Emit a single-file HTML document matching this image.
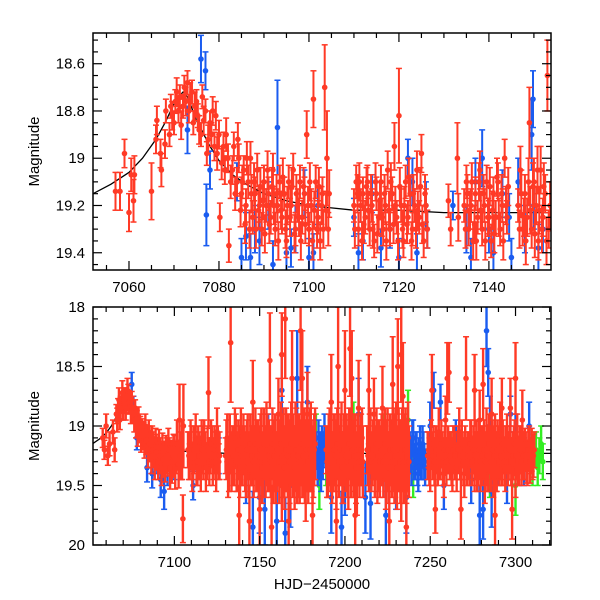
<!DOCTYPE html>
<html><head><meta charset="utf-8"><style>
html,body{margin:0;padding:0;background:#fff}
svg{display:block}
text{font-family:"Liberation Sans",sans-serif;fill:#000}
</style></head><body>
<svg id="chart" width="600" height="600" viewBox="0 0 600 600" xmlns="http://www.w3.org/2000/svg">
<g id="top"></g>
<g id="bot"></g>
</svg>
<script>
// ---- data: [HJD-2450000, magnitude, error] ----
const topRed = [
[7057,19.14,.08],[7058,19.14,.08],[7059,18.98,.06],[7060,19.23,.08],[7060.5,19.07,.07],[7061,19.18,.09],[7061.2,19.07,.08],
[7065,19.14,.12],[7066,18.92,.06],[7066.2,18.84,.06],[7067,18.98,.06],[7067.2,19.05,.07],[7068,18.94,.06],[7068.2,18.8,.05],
[7069,18.9,.05],[7069.3,18.78,.05],[7070,18.85,.05],[7070.3,18.76,.05],[7071,18.8,.05],[7071.3,18.74,.05],[7072,18.78,.05],
[7072.3,18.7,.05],[7073,18.68,.05],[7073.3,18.8,.05],[7074,18.72,.05],[7074.3,18.85,.05],[7075,18.76,.05],[7075.3,18.82,.05],
[7076,18.9,.05],[7076.3,18.74,.05],[7077,18.8,.05],[7077.3,18.98,.05],[7078,18.85,.05],[7078.3,18.9,.05],[7079,18.95,.06],
[7079.3,18.82,.06],[7080,18.9,.06],[7080.2,19.25,.06],[7081,18.95,.06],[7081.3,19.05,.06],[7082,19.0,.06],[7082.2,19.37,.07],
[7083,19.05,.06],[7083.3,18.95,.06],[7084,19.1,.06],[7084.4,19.0,.06],[7085,19.15,.07],[7085.5,19.05,.06],[7086,19.2,.07],
[7086.5,19.1,.07],[7087,19.0,.07],[7087.5,19.25,.07],[7088,19.15,.07],[7088.5,19.05,.07],[7089,19.2,.07],[7089.5,19.3,.07],
[7090,19.1,.07],[7090.5,19.2,.07],[7091,19.15,.07],[7091.5,19.25,.07],[7092,19.05,.07],[7092.5,19.3,.07],[7093,19.2,.07],
[7093.5,19.1,.07],[7094,19.25,.07],[7094.5,19.15,.07],[7095,19.35,.07],[7095.5,19.1,.07],[7096,19.2,.07],[7096.5,19.05,.07],
[7097,19.3,.07],[7097.5,19.2,.07],[7098,19.1,.07],[7098.5,19.25,.07],[7099,19.15,.07],[7099.5,18.9,.1],[7100,19.3,.07],
[7100.5,19.2,.07],[7101,18.75,.12],[7101.5,19.1,.07],[7102,19.25,.07],[7102.5,19.35,.08],[7103,19.15,.07],[7103.5,18.7,.18],
[7104,19.0,.2],[7104.3,19.3,.07],
[7110,19.2,.07],[7110.5,19.1,.07],[7111,19.3,.07],[7111.5,19.2,.07],[7112,19.15,.07],[7112.5,19.25,.07],[7113,19.1,.07],
[7113.5,19.3,.07],[7114,19.2,.07],[7114.5,19.35,.07],[7115,19.15,.07],[7115.5,19.25,.07],[7116,19.1,.07],[7116.5,19.3,.07],
[7117,19.2,.08],[7117.5,19.05,.08],[7118,19.3,.07],[7118.5,19.15,.07],[7119,18.95,.1],[7119.5,19.25,.07],[7120,18.82,.2],
[7120.5,19.2,.07],[7121,19.35,.07],[7121.5,19.1,.07],[7122,19.25,.07],[7122.5,19.15,.07],[7123,19.3,.07],[7123.5,19.2,.07],
[7124,19.05,.08],[7124.5,19.25,.07],[7125,18.98,.08],[7125.5,19.35,.07],[7126,19.2,.07],
[7131,19.18,.07],[7131.5,19.3,.07],[7133,19.0,.15],[7133.2,19.25,.1],
[7134.5,19.2,.07],[7135,19.1,.07],[7135.5,19.3,.07],[7136,19.2,.07],[7136.5,19.35,.08],[7137,19.15,.07],[7137.5,19.25,.07],
[7138,19.05,.08],[7138.5,19.3,.07],[7139,19.2,.07],[7139.5,19.1,.07],[7140,19.25,.07],[7140.5,19.35,.07],[7141,19.15,.07],
[7141.5,19.25,.07],[7142,19.1,.08],[7142.5,19.3,.07],[7143,19.2,.07],[7143.5,19.0,.08],[7144,19.25,.07],
[7146.5,19.2,.07],[7147,19.05,.1],[7147.5,19.3,.07],[7148,19.15,.08],[7148.5,19.25,.08],[7149,18.85,.15],[7149.5,19.3,.08],
[7150,19.1,.1],[7150.5,19.2,.08],[7151,19.35,.08],[7151.5,19.05,.1],[7152,19.25,.08],[7152.5,19.15,.08],[7153,18.65,.15],
[7153.3,19.3,.08]
];
const topRed2 = [
[7069.6,18.82,.06],[7070.6,18.72,.06],[7071.6,18.86,.06],[7072.6,18.76,.06],[7073.6,18.74,.06],[7074.6,18.78,.06],
[7075.6,18.88,.06],[7076.6,18.84,.06],[7077.6,18.92,.06],[7078.6,18.8,.06],[7079.6,18.98,.07],[7080.6,19.02,.07],
[7081.6,18.9,.07],[7082.6,19.1,.07],[7083.6,19.15,.07],[7084.2,18.92,.07],[7084.8,19.22,.07],[7085.2,19.1,.07],[7085.8,19.28,.08],
[7086.2,19.0,.07],[7086.8,19.3,.08],[7087.2,19.15,.08],[7087.8,19.1,.08],[7088.2,19.3,.08],[7088.8,19.22,.08],[7089.2,19.12,.08],
[7089.8,19.18,.08],[7090.2,19.32,.08],[7090.8,19.05,.08],[7091.2,19.28,.08],[7091.8,19.12,.08],[7092.2,19.2,.08],[7092.8,19.15,.08],
[7093.2,19.35,.08],[7093.8,19.22,.08],[7094.2,19.08,.08],[7094.8,19.3,.08],[7095.2,19.2,.08],[7095.8,19.25,.08],[7096.2,19.12,.08],
[7096.8,19.32,.08],[7097.2,19.15,.08],[7097.8,19.25,.08],[7098.2,19.35,.08],[7098.8,19.12,.08],[7099.2,19.28,.08],[7099.8,19.2,.08],
[7100.2,19.1,.08],[7100.8,19.35,.08],[7101.2,19.22,.08],[7101.8,19.3,.08],[7102.2,19.12,.08],[7102.8,19.2,.08],[7103.2,19.3,.08],
[7103.8,19.22,.08],[7104.5,19.15,.1],
[7110.2,19.3,.08],[7110.8,19.15,.08],[7111.2,19.1,.08],[7111.8,19.35,.08],[7112.2,19.28,.08],[7112.8,19.12,.08],[7113.2,19.22,.08],
[7113.8,19.15,.08],[7114.2,19.3,.08],[7114.8,19.1,.08],[7115.2,19.32,.08],[7115.8,19.18,.08],[7116.2,19.25,.08],[7116.8,19.15,.08],
[7117.2,19.35,.08],[7117.8,19.22,.08],[7118.2,19.1,.08],[7118.8,19.28,.08],[7119.2,19.2,.08],[7119.8,19.35,.08],[7120.2,19.12,.08],
[7120.8,19.3,.08],[7121.2,19.2,.08],[7121.8,19.28,.08],[7122.2,19.08,.08],[7122.8,19.35,.08],[7123.2,19.15,.08],[7123.8,19.3,.08],
[7124.2,19.22,.08],[7124.8,19.12,.08],[7125.2,19.28,.08],[7125.8,19.15,.08],[7126.3,19.3,.08],
[7134.8,19.3,.08],[7135.2,19.15,.08],[7135.8,19.22,.08],[7136.2,19.1,.08],[7136.8,19.28,.08],[7137.2,19.35,.08],[7137.8,19.1,.08],
[7138.2,19.22,.08],[7138.8,19.15,.08],[7139.2,19.35,.08],[7139.8,19.25,.08],[7140.2,19.12,.08],[7140.8,19.22,.08],[7141.2,19.32,.08],
[7141.8,19.08,.08],[7142.2,19.25,.08],[7142.8,19.15,.08],[7143.2,19.35,.08],[7143.8,19.2,.08],[7144.3,19.12,.08],
[7146.8,19.3,.08],[7147.2,19.15,.1],[7147.8,19.25,.08],[7148.2,19.35,.1],[7148.8,19.1,.1],[7149.2,19.22,.1],[7149.8,19.12,.1],
[7150.2,19.32,.1],[7150.8,19.05,.1],[7151.2,19.22,.1],[7151.8,19.3,.1],[7152.2,19.12,.1],[7152.8,19.35,.1],[7153.6,19.2,.1]
];
const topBlue = [
[7073,18.88,.1],[7076,18.58,.1],[7077,18.63,.08],[7077.2,19.24,.13],[7078,19.05,.08],[7084,19.1,.08],[7086,19.33,.1],
[7087,19.42,.1],[7089,19.35,.1],[7091,19.2,.1],[7093,18.87,.2],[7095,19.4,.1],[7097,19.3,.1],[7099,19.15,.1],[7101,19.4,.08],
[7102,19.2,.08],[7110,19.25,.08],[7112,19.35,.08],[7114,19.15,.08],[7118,19.3,.08],[7122,19.0,.08],[7123,19.1,.1],
[7126,19.2,.1],[7126.3,19.3,.08],[7132,19.2,.06],[7135,19.3,.1],[7137,19.1,.1],[7138.5,19.0,.12],[7140,19.3,.1],
[7143,19.15,.1],[7144.5,19.25,.1],[7146.5,19.1,.1],[7148,19.3,.1],[7149.5,18.9,.15],[7150,19.2,.1],[7152,19.3,.1],[7154,19.2,.1],
[7085,19.42,.08],[7088,19.3,.1],[7092,19.45,.1],[7096,19.38,.08],[7100,19.42,.08],[7111,19.4,.08],[7116,19.38,.08],
[7120,19.42,.08],[7124,19.4,.08],[7136,19.42,.08],[7141,19.4,.1],[7145,19.42,.08],[7151,19.38,.1],[7149.8,18.75,.12]
];
const botRed = [
[7058,19.1,.08],[7059,19.2,.08],[7060,19.0,.1],[7061,19.25,.08],[7062,19.15,.1],[7064,19.05,.1],[7065,19.2,.1],
[7066,18.9,.08],[7067,18.85,.08],[7068,18.95,.08],[7069,18.8,.07],[7070,18.88,.07],[7071,18.75,.07],[7072,18.82,.07],
[7073,18.72,.07],[7074,18.8,.07],[7075,18.78,.07],[7076,18.9,.07],[7077,18.85,.07],[7078,18.95,.08],[7079,18.92,.08],
[7080,19.0,.08],[7081,19.02,.08],[7082,19.05,.08],[7083,19.0,.1],[7084,19.1,.1],[7085,19.05,.1],[7086,19.15,.1],
[7087,19.1,.1],[7088,19.2,.1],[7089,19.12,.1],[7090,19.2,.1],[7091,19.15,.12],[7092,19.25,.1],[7093,19.18,.12],
[7094,19.25,.12],[7095,19.2,.12],[7096,19.3,.12],[7097,19.22,.12],[7098,19.25,.12],[7099,19.3,.12],[7100,19.2,.12],
[7101,19.28,.12],[7102,19.25,.12],[7103,18.95,.3],[7104,19.3,.15],[7105,19.78,.2],[7105.3,19.0,.35],
[7108,19.2,.15],[7109,19.3,.15],[7110,19.15,.15],[7111,19.3,.15],[7112,19.2,.15],[7113,19.35,.15],[7114,19.15,.15],
[7115,19.25,.15],[7116,19.1,.15],[7117,19.3,.15],[7118,19.2,.15],[7119,19.3,.15],[7120,18.72,.3],[7121,19.25,.15],
[7122,19.15,.15],[7123,19.3,.15],[7124,19.2,.15],[7125,19.05,.2],[7126,19.3,.15],
[7130,19.25,.15],[7131,19.1,.2],[7132,19.35,.2],[7133,18.3,.5],[7134,19.2,.2],[7135,19.3,.2],[7136,19.1,.2],[7137,19.35,.2],
[7138,19.2,.2],[7139,19.05,.2],[7140,19.3,.2],[7141,19.2,.2],[7142,19.4,.2],[7143,19.1,.2],[7144,19.25,.2],[7145,19.3,.2],
[7146,18.8,.35],[7147,19.2,.2],[7148,19.35,.2],[7149,19.15,.2],[7150,19.3,.2],[7151,19.1,.25],[7152,19.4,.2],[7153,19.2,.2],
[7154,19.05,.25],[7155,19.35,.2],[7156,18.45,.4],[7157,19.2,.2],[7158,19.4,.25],[7159,19.15,.25],[7160,19.3,.25],
[7161,18.9,.3],[7162,19.25,.25],[7163,19.5,.3],[7164,19.1,.25],[7165,18.1,.5],[7166,19.3,.25],[7167,19.2,.3],[7168,19.4,.3],
[7169,18.6,.4],[7170,19.25,.25],[7171,19.1,.3],[7172,19.35,.3],[7173,19.2,.3],[7174,18.2,.5],[7175,19.3,.3],[7176,19.15,.3],
[7177,19.45,.35],[7178,18.9,.35],[7179,19.25,.3],[7180,19.1,.3],[7181,19.35,.3],[7182,19.2,.3],
[7189,19.2,.2],[7190,19.35,.25],[7191,19.1,.25],[7192,18.8,.4],[7193,19.3,.25],[7194,19.15,.25],[7195,19.4,.3],[7196,18.5,.5],
[7197,19.25,.25],[7198,19.1,.3],[7199,19.35,.3],[7200,18.7,.5],[7201,19.2,.3],[7202,19.4,.3],[7203,19.15,.3],[7204,18.6,.4],
[7205,19.3,.3],[7206,19.2,.3],[7207,19.45,.3],[7208,18.85,.4],[7209,19.25,.25],[7210,19.1,.25],
[7213,19.2,.2],[7214,19.35,.2],[7215,19.1,.25],[7216,19.3,.2],[7217,18.9,.3],[7218,19.25,.2],[7219,19.4,.25],[7220,19.15,.2],
[7221,19.3,.2],[7222,18.85,.35],[7223,19.2,.25],[7224,19.45,.25],[7225,19.1,.25],[7226,19.3,.25],[7227,19.2,.25],
[7228,18.65,.4],[7229,19.35,.3],[7230,19.1,.3],[7231,18.5,.4],[7232,19.25,.3],[7233,19.45,.35],[7234,18.75,.45],
[7235,19.2,.3],[7236,19.35,.3],[7237,19.1,.3],
[7249,19.2,.15],[7250,19.35,.2],[7251,18.7,.3],[7252,19.15,.15],[7253,19.3,.2],[7254,19.2,.15],[7255,19.05,.2],[7256,19.3,.15],
[7257,19.2,.15],[7258,19.4,.2],[7259,18.95,.2],[7260,19.25,.15],[7261,18.55,.25],[7262,19.2,.15],[7263,19.35,.2],
[7264,19.15,.15],[7265,19.3,.15],[7266,19.2,.15],[7267,19.05,.2],[7268,19.3,.15],[7269,19.2,.15],[7270,19.4,.2],
[7271,18.6,.35],[7272,19.2,.15],[7273,19.3,.2],[7274,19.1,.15],[7275,19.25,.15],[7276,19.35,.2],[7277,19.15,.2],
[7278,19.3,.2],[7279,18.95,.25],[7280,19.2,.2],[7281,18.65,.3],[7282,19.4,.25],[7283,19.1,.25],[7284,19.3,.25],
[7285,19.2,.2],[7286,18.9,.3],[7287,19.35,.25],[7288,19.15,.25],[7289,19.3,.25],[7290,19.2,.2],[7291,19.05,.25],
[7292,19.3,.2],[7293,19.2,.2],[7294,19.35,.2],[7295,19.1,.2],[7296,19.25,.2],[7297,18.85,.25],[7298,19.3,.2],
[7299,19.2,.2],[7300,19.4,.2],[7301,19.1,.2],[7302,19.3,.2],[7303,19.2,.2],[7304,18.95,.25],[7305,19.3,.15],
[7306,19.2,.15],[7307,19.35,.15],[7308,19.15,.15],[7309,19.25,.15],[7310,19.3,.15],[7311,19.2,.15]
];
const botRed2 = [
[7066.5,18.95,.1],[7067.5,18.78,.1],[7068.5,18.85,.1],[7069.5,18.72,.1],[7070.5,18.78,.1],[7071.5,18.85,.1],[7072.5,18.7,.1],
[7073.5,18.8,.1],[7074.5,18.88,.1],[7075.5,18.85,.1],[7076.5,18.95,.1],[7077.5,18.98,.12],[7078.5,19.05,.12],
[7079.5,19.02,.12],[7080.5,19.1,.12],[7081.5,19.08,.12],[7082.5,19.15,.12],[7083.5,19.12,.12],[7084.5,19.2,.15],
[7085.5,19.15,.15],[7086.5,19.25,.15],[7087.5,19.2,.15],[7088.5,19.3,.15],[7089.5,19.22,.15],[7090.5,19.3,.15],
[7091.5,19.25,.15],[7092.5,19.35,.15],[7093.5,19.28,.15],[7094.5,19.32,.15],[7095.5,19.25,.15],[7096.5,19.2,.18],
[7097.5,19.35,.18],[7098.5,19.3,.18],[7099.5,19.25,.18],[7100.5,19.35,.18],[7101.5,19.15,.2],[7102.5,19.32,.2],[7103.5,19.25,.2],[7104.5,19.2,.25],
[7108.5,19.25,.2],[7109.5,19.15,.2],[7110.5,19.35,.2],[7111.5,19.2,.2],[7112.5,19.1,.2],[7113.5,19.3,.2],[7114.5,19.25,.2],
[7115.5,19.35,.2],[7116.5,19.2,.2],[7117.5,19.15,.2],[7118.5,19.35,.2],[7119.5,19.2,.2],[7120.5,19.3,.2],[7121.5,19.15,.2],
[7122.5,19.3,.2],[7123.5,19.2,.2],[7124.5,19.35,.2],[7125.5,19.2,.2],[7126.5,19.25,.2],
[7130.5,19.2,.25],[7131.5,19.35,.25],[7132.5,19.15,.25],[7133.5,19.3,.25],[7134.5,19.25,.25],[7135.5,19.1,.25],[7136.5,19.3,.25],
[7137.5,19.2,.25],[7138.5,19.35,.25],[7139.5,19.25,.25],[7140.5,19.15,.25],[7141.5,19.3,.25],[7142.5,19.2,.25],[7143.5,19.35,.25],
[7144.5,19.15,.25],[7145.5,19.25,.25],[7146.5,19.3,.3],[7147.5,19.15,.3],[7148.5,19.25,.3],[7149.5,19.3,.3],[7150.5,19.2,.3],
[7151.5,19.35,.3],[7152.5,19.15,.3],[7153.5,19.3,.3],[7154.5,19.2,.3],[7155.5,19.25,.3],[7156.5,19.3,.3],[7157.5,19.15,.3],
[7158.5,19.25,.3],[7159.5,19.35,.3],[7160.5,19.2,.3],[7161.5,19.3,.35],[7162.5,19.15,.35],[7163.5,19.25,.35],[7164.5,19.35,.35],
[7165.5,19.2,.35],[7166.5,19.25,.35],[7167.5,19.3,.35],[7168.5,19.15,.35],[7169.5,19.25,.35],[7170.5,19.35,.35],[7171.5,19.2,.35],
[7172.5,19.25,.35],[7173.5,19.3,.35],[7174.5,19.15,.35],[7175.5,19.25,.35],[7176.5,19.3,.35],[7177.5,19.2,.35],[7178.5,19.3,.35],
[7179.5,19.2,.35],[7180.5,19.25,.3],[7181.5,19.3,.3],[7182.5,19.15,.3],
[7189.5,19.3,.3],[7190.5,19.2,.3],[7191.5,19.25,.3],[7192.5,19.35,.3],[7193.5,19.2,.3],[7194.5,19.25,.3],[7195.5,19.15,.3],
[7196.5,19.3,.3],[7197.5,19.2,.3],[7198.5,19.35,.3],[7199.5,19.2,.3],[7200.5,19.25,.3],[7201.5,19.3,.3],[7202.5,19.15,.3],
[7203.5,19.3,.3],[7204.5,19.2,.3],[7205.5,19.25,.3],[7206.5,19.35,.3],[7207.5,19.2,.3],[7208.5,19.3,.3],[7209.5,19.2,.3],[7210.5,19.3,.3],
[7213.5,19.25,.25],[7214.5,19.15,.25],[7215.5,19.3,.25],[7216.5,19.2,.25],[7217.5,19.3,.3],[7218.5,19.15,.3],[7219.5,19.25,.3],
[7220.5,19.3,.3],[7221.5,19.2,.3],[7222.5,19.3,.3],[7223.5,19.15,.3],[7224.5,19.25,.3],[7225.5,19.35,.3],[7226.5,19.2,.3],
[7227.5,19.3,.3],[7228.5,19.2,.35],[7229.5,19.25,.35],[7230.5,19.35,.35],[7231.5,19.2,.35],[7232.5,19.3,.35],[7233.5,19.2,.35],
[7234.5,19.3,.35],[7235.5,19.2,.35],[7236.5,19.25,.3],[7237.5,19.3,.3],
[7248.5,19.25,.2],[7249.5,19.3,.2],[7250.5,19.15,.2],[7251.5,19.25,.2],[7252.5,19.3,.2],[7253.5,19.2,.2],[7254.5,19.3,.2],
[7255.5,19.25,.2],[7256.5,19.15,.2],[7257.5,19.3,.2],[7258.5,19.2,.2],[7259.5,19.3,.2],[7260.5,19.2,.2],[7261.5,19.25,.2],
[7262.5,19.3,.2],[7263.5,19.2,.2],[7264.5,19.25,.2],[7265.5,19.35,.2],[7266.5,19.2,.2],[7267.5,19.25,.2],[7268.5,19.15,.2],
[7269.5,19.3,.2],[7270.5,19.2,.2],[7271.5,19.3,.2],[7272.5,19.25,.2],[7273.5,19.15,.2],[7274.5,19.3,.2],[7275.5,19.2,.2],
[7276.5,19.25,.2],[7277.5,19.3,.25],[7278.5,19.2,.25],[7279.5,19.3,.25],[7280.5,19.25,.25],[7281.5,19.2,.25],[7282.5,19.3,.25],
[7283.5,19.25,.25],[7284.5,19.15,.25],[7285.5,19.3,.25],[7286.5,19.2,.25],[7287.5,19.25,.25],[7288.5,19.3,.25],[7289.5,19.2,.25],
[7290.5,19.3,.2],[7291.5,19.25,.2],[7292.5,19.15,.2],[7293.5,19.3,.2],[7294.5,19.2,.2],[7295.5,19.3,.2],[7296.5,19.2,.2],
[7297.5,19.3,.2],[7298.5,19.25,.2],[7299.5,19.15,.2],[7300.5,19.25,.2],[7301.5,19.3,.2],[7302.5,19.2,.2],[7303.5,19.3,.2],
[7304.5,19.25,.2],[7305.5,19.2,.18],[7306.5,19.3,.18],[7307.5,19.2,.18],[7308.5,19.3,.18],[7309.5,19.2,.18],[7310.5,19.25,.18]
];
const botOutRed = [
[7138,19.75,.25],[7144,19.8,.3],[7150,19.7,.3],[7157,19.85,.35],[7163,18.4,.35],[7167,19.8,.3],[7175,18.6,.4],[7181,19.75,.3],
[7195,19.8,.3],[7203,18.35,.4],[7206,19.75,.3],[7214,18.7,.3],[7226,19.8,.3],[7233,18.4,.4],[7236,19.85,.3],[7253,19.7,.2],
[7260,18.6,.3],[7268,19.7,.25],[7276,18.7,.3],[7288,19.75,.25],[7292,18.85,.25],[7298,19.7,.25],[7300,18.6,.3]
];
const botBlue = [
[7075,18.65,.1],[7076,18.85,.1],[7078,19.1,.1],[7084,19.35,.12],[7087,19.4,.12],[7090,19.25,.15],[7092,19.45,.15],
[7094,19.55,.15],[7096,19.35,.15],[7100,19.3,.15],[7111,19.5,.12],[7114,19.3,.15],[7126,19.25,.15],[7142,19.4,.25],
[7150,19.6,.3],[7155,19.2,.3],[7160,19.8,.35],[7163,18.7,.3],[7168,19.5,.35],[7172,18.6,.4],
[7183,19.2,.15],[7184,19.35,.15],[7184.5,19.1,.15],[7185,19.3,.15],[7185.5,19.2,.15],[7186,19.4,.15],[7186.5,19.15,.15],
[7187,19.3,.15],[7187.5,19.2,.15],[7188,19.1,.2],[7192,19.6,.3],[7200,19.4,.35],[7208,18.9,.3],[7215,19.65,.3],
[7230,19.4,.3],[7236,19.6,.3],
[7238,19.2,.15],[7239,19.35,.15],[7240,19.1,.15],[7241,19.3,.15],[7242,19.2,.15],[7243,19.4,.15],[7244,19.15,.15],
[7245,19.3,.15],[7246,19.2,.15],[7247,19.35,.15],[7238.5,19.25,.15],[7239.5,19.1,.15],[7240.5,19.3,.15],[7241.5,19.2,.15],
[7242.5,19.35,.15],[7243.5,19.25,.15],[7244.5,19.3,.15],[7245.5,19.15,.15],[7246.5,19.3,.15],
[7250,19.0,.2],[7258,19.5,.2],[7265,19.1,.15],[7274,19.45,.2],
[7280,19.3,.2],[7281,19.7,.25],[7283,18.2,.3],[7285,19.0,.25],[7286,19.55,.3],[7290,19.3,.2],[7295,19.45,.2],
[7300,19.1,.2],[7305,19.3,.2],[7308,19.0,.2],
[7146,19.85,.3],[7153,19.7,.3],[7165,19.9,.3],[7178,18.8,.3],[7198,19.85,.3],[7212,19.6,.3],[7224,19.75,.3],[7252,18.7,.15],
[7256,18.8,.15],[7279,19.75,.25],[7284,18.55,.2],[7297,18.9,.15]
];
const botGreen = [
[7183,19.1,.2],[7185,19.5,.2],[7189,19.3,.2],[7205,19.0,.2],[7223,19.1,.2],[7237,18.95,.25],[7240,19.4,.2],
[7262,19.25,.2],[7285,19.35,.25],[7300,19.5,.25],[7310,19.3,.2],[7312,19.2,.15],[7313,19.35,.15],[7314,19.25,.15],
[7315,19.15,.15],[7316,19.3,.15]
];
const modelDays = [7052,7056,7060,7063,7066,7068,7070,7071,7072,7073,7075,7078,7080,7083,7086,7090,7095,7100,7105,7110,7120,7130,7140,7150,7160,7180,7200,7250,7300,7321];
const modelMags = [19.15,19.11,19.06,19.0,18.92,18.85,18.77,18.74,18.72,18.74,18.84,18.95,19.01,19.07,19.11,19.15,19.18,19.2,19.21,19.22,19.22,19.23,19.23,19.23,19.23,19.23,19.23,19.23,19.23,19.23];
const topYTicks = [18.6,18.8,19,19.2,19.4];
const topXTicks = [7060,7080,7100,7120,7140];
const botYTicks = [18,18.5,19,19.5,20];
const botXTicks = [7100,7150,7200,7250,7300];

const NS = 'http://www.w3.org/2000/svg';
function mk(parent, tag, attrs){const e=document.createElementNS(NS,tag);for(const k in attrs)e.setAttribute(k,attrs[k]);parent.appendChild(e);return e;}

function panel(g, cfg){
  const L=93,R=551,T=cfg.T,B=cfg.B;
  const sx=d=>L+(d-cfg.x0)/(cfg.x1-cfg.x0)*(R-L);
  const sy=m=>T+(m-cfg.y0)/(cfg.y1-cfg.y0)*(B-T);
  const clip='clip'+cfg.id;
  const defs=mk(g,'defs',{});
  const cp=mk(defs,'clipPath',{id:clip});
  mk(cp,'rect',{x:L,y:T,width:R-L,height:B-T});
  const plot=mk(g,'g',{'clip-path':`url(#${clip})`});
  
  
  let d='';
  modelDays.forEach((x,i)=>{d+=(i?'L':'M')+sx(x).toFixed(1)+','+sy(modelMags[i]).toFixed(1);});
  const mc=mk(plot,'path',{d:d,fill:'none',stroke:'#000','stroke-width':1.3});
  
  
  function series(arr,color,name){
    const sg=mk(plot,'g',{stroke:color,fill:color});
    
    
    arr.forEach(p=>{
      const x=sx(p[0]),y=sy(p[1]),y1=sy(p[1]-p[2]),y2=sy(p[1]+p[2]);
      mk(sg,'line',{x1:x,x2:x,y1:y1,y2:y2,'stroke-width':cfg.ew});
      mk(sg,'line',{x1:x-3,x2:x+3,y1:y1,y2:y1,'stroke-width':1.5});
      mk(sg,'line',{x1:x-3,x2:x+3,y1:y2,y2:y2,'stroke-width':1.5});
      const c=mk(sg,'circle',{cx:x,cy:y,r:cfg.r,stroke:'none'});
      
      
    });
  }
  cfg.series.forEach(s=>series(s[0],s[1],s[2]));
  const fr=mk(g,'rect',{x:L,y:T,width:R-L,height:B-T,fill:'none',stroke:'#000','stroke-width':1.5});
  
  
  const tk=mk(g,'g',{stroke:'#000','stroke-width':1.2});
  
  
  for(let v=Math.ceil(cfg.x0/cfg.xmin)*cfg.xmin; v<=cfg.x1; v+=cfg.xmin){
    const major=Math.abs(v/cfg.xmaj-Math.round(v/cfg.xmaj))<1e-6;const len=major?9:5;const x=sx(v);
    mk(tk,'line',{x1:x,x2:x,y1:B,y2:B-len});mk(tk,'line',{x1:x,x2:x,y1:T,y2:T+len});
  }
  const start=Math.ceil(cfg.y0/cfg.ymin-1e-9), end=Math.floor(cfg.y1/cfg.ymin+1e-9);
  for(let k=start;k<=end;k++){
    const v=k*cfg.ymin;
    const major=Math.abs(v/cfg.ymaj-Math.round(v/cfg.ymaj))<1e-6;const len=major?9:5;const y=sy(v);
    mk(tk,'line',{x1:L,x2:L+len,y1:y,y2:y});mk(tk,'line',{x1:R,x2:R-len,y1:y,y2:y});
  }
  cfg.yt.forEach(v=>{const t=mk(g,'text',{x:L-8,y:sy(v)+5,'text-anchor':'end','font-size':15});t.textContent=String(v);
    
    });
  cfg.xt.forEach(v=>{const t=mk(g,'text',{x:sx(v),y:B+22,'text-anchor':'middle','font-size':15});t.textContent=String(v);
    
    });
  const yl=mk(g,'text',{x:0,y:0,'text-anchor':'middle','font-size':15,transform:`translate(39,${(T+B)/2}) rotate(-90)`});
  yl.textContent='Magnitude';
  
  
}
panel(document.getElementById('top'),{id:'top',T:33,B:270,x0:7052,x1:7153.8,y0:18.47,y1:19.473,xmin:5,xmaj:20,ymin:0.05,ymaj:0.2,r:2.8,ew:2,
  yt:topYTicks,xt:topXTicks,series:[[topBlue,'#1a5cf0','blue-series-top'],[topRed,'#ff3a26','red-series-top'],[topRed2,'#ff3a26','red-series-top-2']]});
panel(document.getElementById('bot'),{id:'bot',T:307,B:545,x0:7052.3,x1:7320.8,y0:18,y1:20,xmin:10,xmaj:50,ymin:0.1,ymaj:0.5,r:2.8,ew:2.4,
  yt:botYTicks,xt:botXTicks,series:[[botGreen,'#33ee22','green-series'],[botBlue,'#1a5cf0','blue-series-bottom'],[botOutRed,'#ff3a26','red-outliers-bottom'],[botRed,'#ff3a26','red-series-bottom'],[botRed2,'#ff3a26','red-series-bottom-2']]});
const xl=mk(document.getElementById('chart'),'text',{x:322,y:589,'text-anchor':'middle','font-size':15});
xl.textContent='HJD\u22122450000';


</script>
</body></html>
